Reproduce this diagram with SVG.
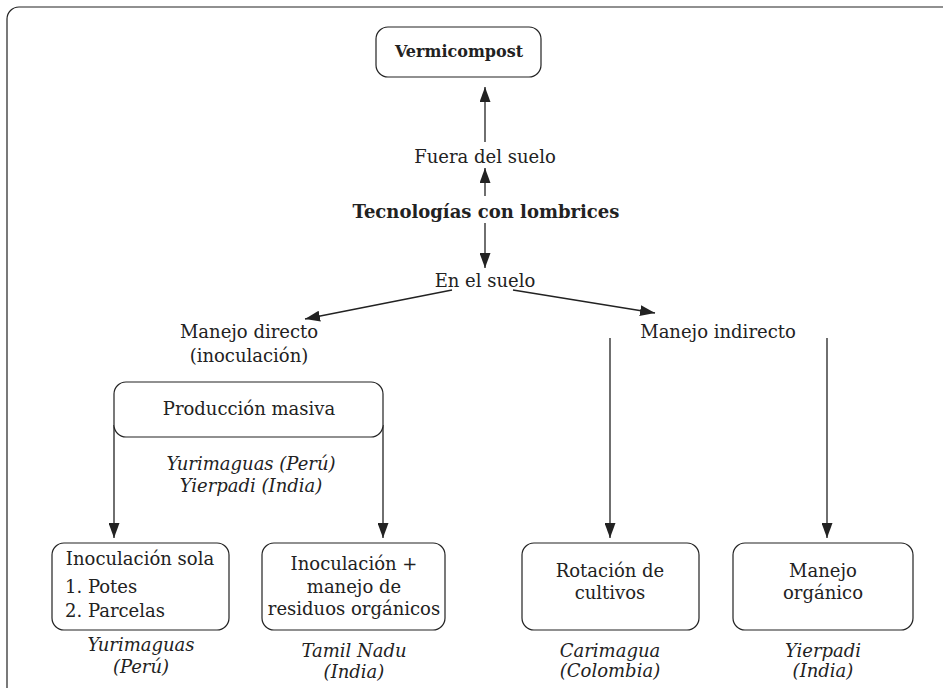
<svg xmlns="http://www.w3.org/2000/svg" width="943" height="688" viewBox="0 0 943 688">
<style>
text{font-family:"DejaVu Serif","Liberation Serif",serif;font-size:18px;fill:#222;text-anchor:middle}
.b{font-weight:bold}
.i{font-style:italic}
.l{text-anchor:start}
.box{fill:#fff;stroke:#222;stroke-width:1.2}
.c{stroke:#222;stroke-width:1.3;fill:none}
</style>
<defs>
<marker id="ah" viewBox="0 0 15 11" refX="15" refY="5.5" markerWidth="15" markerHeight="11" markerUnits="userSpaceOnUse" orient="auto">
<path d="M0,0 L15,5.5 L0,11 Z" fill="#222"/>
</marker>
</defs>
<rect x="7" y="7" width="960" height="700" rx="12" fill="#fff" stroke="#222" stroke-width="1.2"/>
<g id="connectors">
<line class="c" x1="485" y1="142" x2="485" y2="87" marker-end="url(#ah)"/>
<line class="c" x1="485" y1="196" x2="485" y2="168" marker-end="url(#ah)"/>
<line class="c" x1="485" y1="223" x2="485" y2="268" marker-end="url(#ah)"/>
<line class="c" x1="452" y1="290" x2="305" y2="319" marker-end="url(#ah)"/>
<line class="c" x1="513" y1="290" x2="655" y2="313" marker-end="url(#ah)"/>
<line class="c" x1="610" y1="338" x2="610" y2="538" marker-end="url(#ah)"/>
<line class="c" x1="827" y1="338" x2="827" y2="538" marker-end="url(#ah)"/>
<line class="c" x1="114" y1="425" x2="114" y2="538" marker-end="url(#ah)"/>
<line class="c" x1="383" y1="425" x2="383" y2="538" marker-end="url(#ah)"/>
</g>
<g id="vermicompost">
<rect class="box" x="376" y="27" width="165" height="50" rx="12"/>
<text class="b" x="459" y="57" style="font-size:16px">Vermicompost</text>
</g>
<g id="fuera"><text x="485" y="163">Fuera del suelo</text></g>
<g id="tecnologias"><text class="b" x="486" y="218">Tecnologías con lombrices</text></g>
<g id="en-suelo"><text x="485" y="287">En el suelo</text></g>
<g id="manejo-directo">
<text x="249" y="338">Manejo directo</text>
<text x="249" y="362">(inoculación)</text>
</g>
<g id="manejo-indirecto"><text x="718" y="338">Manejo indirecto</text></g>
<g id="produccion">
<rect class="box" x="114" y="382" width="269" height="55" rx="12"/>
<text x="249" y="415">Producción masiva</text>
</g>
<g id="sitios-produccion">
<text class="i" x="251" y="470">Yurimaguas (Perú)</text>
<text class="i" x="251" y="492">Yierpadi (India)</text>
</g>
<g id="inoculacion-sola">
<rect class="box" x="52" y="543" width="177" height="87" rx="12"/>
<text x="140" y="565">Inoculación sola</text>
<text class="l" x="65" y="593">1.  Potes</text>
<text class="l" x="65" y="617">2.  Parcelas</text>
<text class="i" x="141" y="651">Yurimaguas</text>
<text class="i" x="141" y="673">(Perú)</text>
</g>
<g id="inoculacion-residuos">
<rect class="box" x="262" y="543" width="183" height="87" rx="12"/>
<text x="354" y="570">Inoculación +</text>
<text x="354" y="593">manejo de</text>
<text x="354" y="615">residuos orgánicos</text>
<text class="i" x="354" y="657">Tamil Nadu</text>
<text class="i" x="354" y="678">(India)</text>
</g>
<g id="rotacion">
<rect class="box" x="522" y="543" width="177" height="87" rx="12"/>
<text x="610" y="577">Rotación de</text>
<text x="610" y="599">cultivos</text>
<text class="i" x="610" y="657">Carimagua</text>
<text class="i" x="610" y="677">(Colombia)</text>
</g>
<g id="manejo-organico">
<rect class="box" x="733" y="543" width="180" height="87" rx="12"/>
<text x="823" y="577">Manejo</text>
<text x="823" y="599">orgánico</text>
<text class="i" x="823" y="657">Yierpadi</text>
<text class="i" x="823" y="677">(India)</text>
</g>
</svg>
